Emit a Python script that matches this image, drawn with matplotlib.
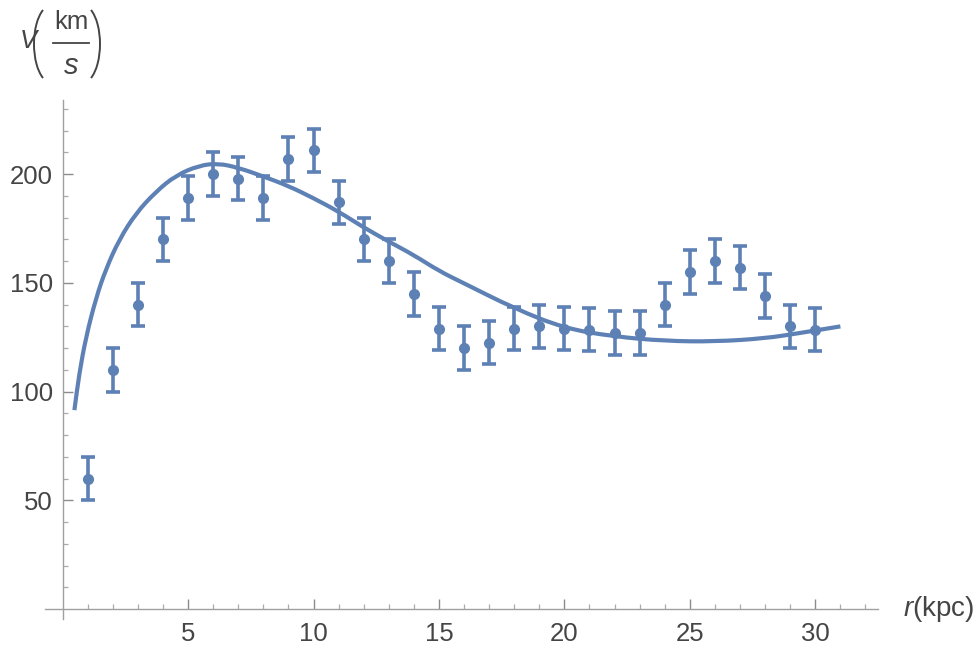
import matplotlib
matplotlib.use("Agg")
import numpy as np
import matplotlib.pyplot as plt
from matplotlib.ticker import FixedLocator, NullFormatter
from matplotlib.path import Path
from matplotlib.patches import PathPatch, Arc
from matplotlib.lines import Line2D
from matplotlib.transforms import IdentityTransform

plt.rcParams['font.family'] = ['Liberation Sans', 'DejaVu Sans']
plt.rcParams['mathtext.fontset'] = 'custom'
plt.rcParams['mathtext.rm'] = 'Liberation Sans'
plt.rcParams['mathtext.it'] = 'Liberation Sans:italic'

# ---- data ----
radius = [1, 2, 3, 4, 5, 6, 7, 8, 9, 10, 11, 12, 13, 14, 15,
          16, 17, 18, 19, 20, 21, 22, 23, 24, 25, 26, 27, 28, 29, 30]
velocity = [60, 110, 140, 170, 189, 200, 198, 189, 207, 211, 187, 170, 160, 145, 129,
            120, 122.5, 129, 130, 129, 128.5, 127, 127, 140, 155, 160, 157, 144, 130, 128.5]
error = [10] * 30

curve_r = [0.47, 0.66, 0.93, 1.33, 1.73, 2.26, 2.92, 3.72, 4.52, 5.44, 6.2, 7, 8, 9, 10,
           11, 12, 13, 14, 15, 16, 18, 20, 22, 24, 26, 28, 29.3, 31]
curve_v = [91.5, 108, 125, 143, 156.5, 170, 182, 192, 199.5, 204, 205, 203, 199, 194.6, 189,
           182.8, 175.5, 169, 162.8, 155.5, 149.8, 138.3, 129.1, 125.3, 123.3, 123.0, 124.5, 126.8, 130]

x_major = [5, 10, 15, 20, 25, 30]
x_minor = [i for i in range(1, 33) if i % 5 != 0]
y_major = [50, 100, 150, 200]
y_minor = [i for i in range(10, 240, 10) if i % 50 != 0]

color = '#5E81B5'
label_color = '#454545'
W, H = 977, 645

fig = plt.figure(figsize=(W / 100, H / 100), dpi=100)
ax = fig.add_axes([0.0461, 0.0406, 0.8526, 0.8039])

# smooth drawing of the fitted curve: quadratic Bezier path through the read points
pts = list(zip(curve_r, curve_v))
verts = [pts[0]]
codes = [Path.MOVETO]
mid0 = ((pts[0][0] + pts[1][0]) / 2, (pts[0][1] + pts[1][1]) / 2)
verts.append(mid0)
codes.append(Path.LINETO)
for i in range(1, len(pts) - 1):
    ctrl = pts[i]
    end = ((pts[i][0] + pts[i + 1][0]) / 2, (pts[i][1] + pts[i + 1][1]) / 2)
    verts += [ctrl, end]
    codes += [Path.CURVE3, Path.CURVE3]
verts.append(pts[-1])
codes.append(Path.LINETO)
ax.add_patch(PathPatch(Path(verts, codes), fill=False, edgecolor=color, lw=3.0,
                       capstyle='butt', joinstyle='round', zorder=2))

ax.errorbar(radius, velocity, yerr=error, fmt='o', ms=7, color=color,
            ecolor=color, elinewidth=2.6, capsize=5, capthick=2.6, zorder=3)

ax.set_xlim(-0.7, 32.5)
ax.set_ylim(-4.5, 234)

for s in ['top', 'right']:
    ax.spines[s].set_visible(False)
ax.spines['left'].set_position(('data', 0))
ax.spines['bottom'].set_position(('data', 0))
for s in ['left', 'bottom']:
    ax.spines[s].set_color('#a0a0a0')
    ax.spines[s].set_linewidth(1.0)

ax.xaxis.set_major_locator(FixedLocator(x_major))
ax.xaxis.set_minor_locator(FixedLocator(x_minor))
ax.yaxis.set_major_locator(FixedLocator(y_major))
ax.yaxis.set_minor_locator(FixedLocator(y_minor))
ax.xaxis.set_minor_formatter(NullFormatter())
ax.yaxis.set_minor_formatter(NullFormatter())

ax.tick_params(which='major', direction='in', length=7, width=1.0, color='#8c8c8c',
               labelsize=18.5, labelcolor=label_color)
ax.tick_params(which='minor', direction='in', length=3.8, width=0.9, color='#ababab')
ax.tick_params(axis='x', which='major', pad=9)
ax.tick_params(axis='y', which='major', pad=7)

# x-axis label
fig.text(903 / W, 1 - 609 / H, r'$r$(kpc)', fontsize=20, color=label_color,
         ha='left', va='center')

# y-axis label  V (km / s)
def px(x, y):
    return x / W, 1 - y / H

fig.text(*px(28, 41), 'V', fontsize=18.5, style='italic', color=label_color,
         ha='center', va='center')
fig.text(*px(71, 22), 'km', fontsize=18.5, color=label_color, ha='center', va='center')
fig.text(*px(71, 66), 's', fontsize=21, style='italic', color=label_color,
         ha='center', va='center')
fig.add_artist(Line2D([53 / W, 89 / W], [1 - 43 / H, 1 - 43 / H], color=label_color,
                      lw=1.3, transform=fig.transFigure))

# thin tall parentheses
a, b = 18.0, 39.3
half = 34.0
ang = np.degrees(np.arctan2(half, a * 0.5))
cy = H - 44
fig.add_artist(Arc((34 + a, cy), 2 * a, 2 * b, theta1=180 - ang, theta2=180 + ang,
                   color=label_color, lw=1.4, transform=IdentityTransform()))
fig.add_artist(Arc((100 - a, cy), 2 * a, 2 * b, theta1=-ang, theta2=ang,
                   color=label_color, lw=1.4, transform=IdentityTransform()))

fig.savefig('out.png', dpi=100)
